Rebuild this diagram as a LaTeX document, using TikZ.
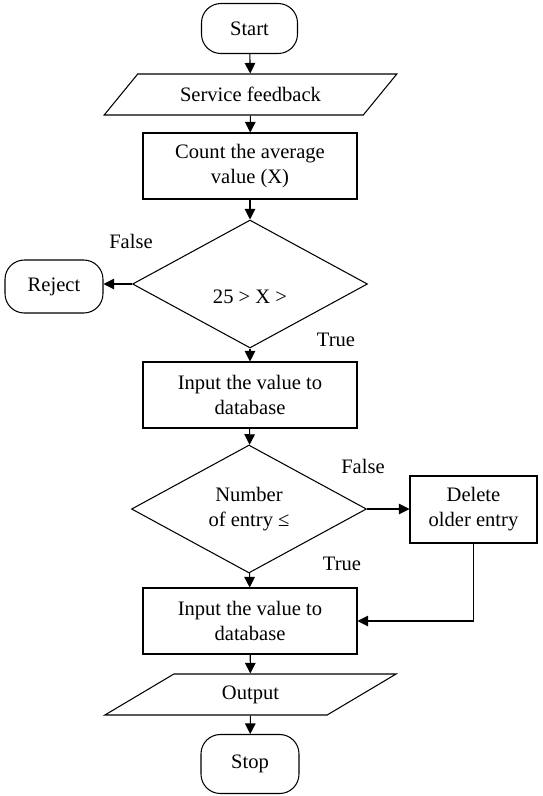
\documentclass[tikz,border=0pt]{standalone}
\usepackage{fontspec}
\setmainfont{Liberation Serif}
\usetikzlibrary{shapes.geometric,arrows.meta,positioning}

\begin{document}
\begin{tikzpicture}[x=0.02cm, y=-0.02cm, line width=0.6pt,
    font=\fontsize{11.7}{14.2}\selectfont,
    terminal/.style={draw, rounded corners=11pt, minimum width=1.92cm, minimum height=1cm},
    io/.style={draw, trapezium, trapezium left angle=35, trapezium right angle=145,
        trapezium stretches, minimum width=5.86cm, minimum height=0.82cm, inner sep=0pt},
    process/.style={draw, align=center, minimum width=4.28cm, minimum height=1.32cm},
    decision/.style={draw, diamond, align=center, minimum width=4.7cm, minimum height=2.56cm, inner sep=0pt},
    arrow/.style={-{Triangle[length=6pt,width=6pt]}}]
    \useasboundingbox (0,0) rectangle (543,796);

    % Main column
    \node[terminal] (start) at (249.5,28.5) {Start};
    \node[io] (feed) at (250.5,94.5) {Service feedback};
    \node[process] (avg) at (250,166) {Count the average\\value (X)};
    \node[decision] (chk) at (250,284) {};
    \node (chktxt) at (250,297) {25 > X >};
    \node[process] (in1) at (250,395) {Input the value to\\database};
    \node[decision] (cnt) at (249,509) {Number\\of entry ≤};
    \node[process] (in2) at (250,621) {Input the value to\\database};
    \node[io] (out) at (250.5,694.5) {Output};
    \node[terminal, minimum width=1.96cm, minimum height=1.18cm] (stop) at (250,764) {Stop};

    % Side branches
    \node[terminal, minimum width=1.96cm, minimum height=1.06cm] (rej) at (54,286.5) {Reject};
    \node[process, minimum width=2.54cm, minimum height=1.34cm] (del) at (473.5,509.5) {Delete\\older entry};

    % Branch labels
    \node (f1) at (131,241) {False};
    \node (t1) at (336,340) {True};
    \node (f2) at (363,466) {False};
    \node (t2) at (342,564) {True};

    % Connectors
    \draw[arrow] (start) -- (feed);
    \draw[arrow] (feed) -- (avg);
    \draw[arrow] (avg) -- (chk);
    \draw[arrow] (chk.west) -- (chk.west -| rej.east);
    \draw[arrow] (chk) -- (in1);
    \draw[arrow] (in1) -- (cnt);
    \draw[arrow] (cnt.east) -- (cnt.east -| del.west);
    \draw[arrow] (cnt) -- (in2);
    \draw[arrow] (del.south) |- (in2.east);
    \draw[arrow] (in2) -- (out);
    \draw[arrow] (out) -- (stop);

\end{tikzpicture}
\end{document}
